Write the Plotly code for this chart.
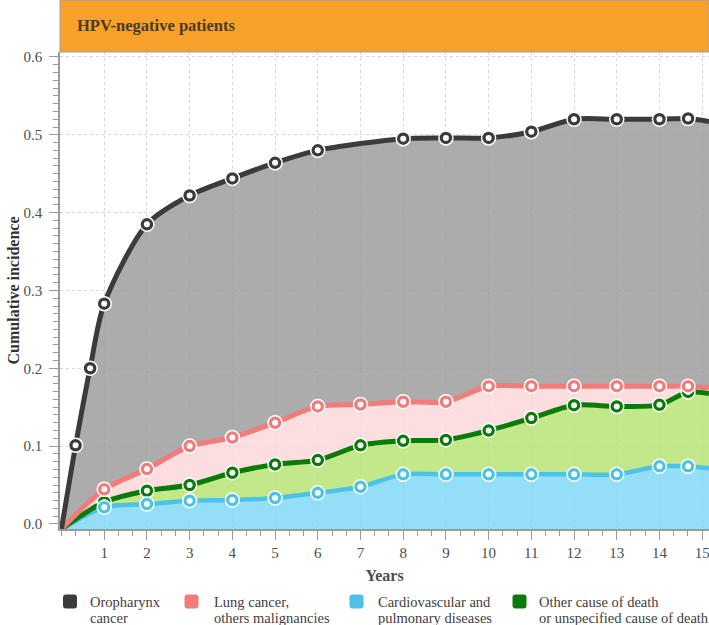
import plotly.graph_objects as go

# ---------------- data ----------------
Y0 = -0.0065  # bottom of the y axis (curves start at the lower-left corner)
X_END = 15.16  # right edge of the visible range

years = [0, 1, 2, 3, 4, 5, 6, 7, 8, 9, 10, 11, 12, 13, 14, 14.67, X_END]
oro_years = [0, 0.33, 0.67, 1, 2, 3, 4, 5, 6, 8, 9, 10, 11, 12, 13, 14, 14.67, X_END]

oropharynx = [Y0, 0.101, 0.200, 0.283, 0.385, 0.422, 0.444, 0.464, 0.480,
              0.495, 0.496, 0.496, 0.504, 0.520, 0.520, 0.520, 0.521, 0.517]
lung = [Y0, 0.0445, 0.0705, 0.100, 0.111, 0.130, 0.151, 0.1535, 0.157, 0.157,
        0.177, 0.177, 0.177, 0.177, 0.177, 0.177, 0.175]
other = [Y0, 0.028, 0.0427, 0.050, 0.0658, 0.0765, 0.082, 0.101, 0.1068, 0.108,
         0.120, 0.136, 0.1526, 0.151, 0.153, 0.1696, 0.1675]
cardio = [Y0, 0.0214, 0.0256, 0.0299, 0.0308, 0.0333, 0.040, 0.0478, 0.0637, 0.0637,
          0.0637, 0.0637, 0.0637, 0.0637, 0.074, 0.074, 0.0714]

legend_keys = ["oro", "lung", "cardio", "other"]
legend_lines = {
    "oro": ["Oropharynx", "cancer"],
    "lung": ["Lung cancer,", "others malignancies"],
    "cardio": ["Cardiovascular and", "pulmonary diseases"],
    "other": ["Other cause of death", "or unspecified cause of death"],
}
x_ticks = list(range(1, 16))
y_ticks = [0.0, 0.1, 0.2, 0.3, 0.4, 0.5, 0.6]
panel_title = "HPV-negative patients"

# ---------------- style / layout ----------------
W, H = 709, 625
ML, MR, MT, MB = 60, 0, 52, 96
PW, PH = W - ML - MR, H - MT - MB


def px_x(px):
    return (px - ML) / PW


def px_y(py):
    return (H - MB - py) / PH


FONT = "Liberation Serif, Times New Roman, serif"
line_col = {"oro": "#3b3b3b", "lung": "#f27b7b", "other": "#0a7a0a", "cardio": "#4cc3e6"}
fill_col = {"oro": "rgba(158,158,158,0.85)", "lung": "rgba(253,216,216,0.85)",
            "other": "rgba(184,228,117,0.85)", "cardio": "rgba(129,216,246,0.85)"}
line_w = {"oro": 5, "lung": 5, "other": 5, "cardio": 4.5}

series = [("cardio", years, cardio), ("other", years, other),
          ("lung", years, lung), ("oro", oro_years, oropharynx)]

fig = go.Figure()

# baseline at axis bottom for the lowest fill
fig.add_trace(go.Scatter(x=[0, X_END], y=[Y0, Y0], mode="lines",
                         line=dict(width=0), showlegend=False, hoverinfo="skip"))

for key, xs, ys in series:
    fig.add_trace(go.Scatter(
        x=xs, y=ys, mode="lines", fill="tonexty", fillcolor=fill_col[key],
        line=dict(color=line_col[key], width=line_w[key], shape="spline", smoothing=0.8),
        showlegend=False, hoverinfo="skip"))

# markers (first point = origin, last = edge of view: no marker)
for key, xs, ys in [("oro", oro_years, oropharynx), ("other", years, other),
                    ("lung", years, lung), ("cardio", years, cardio)]:
    fig.add_trace(go.Scatter(
        x=xs[1:-1], y=ys[1:-1], mode="markers",
        marker=dict(size=14, color=line_col[key], line=dict(color="white", width=1.5)),
        showlegend=False, hoverinfo="skip"))
    fig.add_trace(go.Scatter(
        x=xs[1:-1], y=ys[1:-1], mode="markers",
        marker=dict(size=6, color="white", line=dict(width=0)),
        showlegend=False, hoverinfo="skip"))

# ---- legend (drawn manually at the bottom) ----
swatch_cx = {"oro": 70, "lung": 191.5, "cardio": 356.5, "other": 519.5}
text_x = {"oro": 88.5, "lung": 212.7, "cardio": 376.7, "other": 538.3}
LINE1_Y, LINE2_Y = 601.5, 617.5
rounded = ("M -4,-7 L 4,-7 Q 7,-7 7,-4 L 7,4 Q 7,7 4,7 L -4,7 "
           "Q -7,7 -7,4 L -7,-4 Q -7,-7 -4,-7 Z")

shapes = [dict(type="rect", xref="paper", yref="paper", x0=0, x1=1,
               y0=1, y1=1 + MT / PH, fillcolor="#f9a12a",
               line=dict(color="#a0a0a0", width=1), layer="above")]
annotations = [dict(text="<b>" + panel_title + "</b>", xref="paper", yref="paper",
                    x=px_x(75), y=1 + 26 / PH, xanchor="left", yanchor="middle",
                    showarrow=False,
                    font=dict(family=FONT, size=16.5, color="#4a3c22"))]

for key in legend_keys:
    shapes.append(dict(type="path", xref="paper", yref="paper",
                       xsizemode="pixel", ysizemode="pixel",
                       xanchor=px_x(swatch_cx[key]), yanchor=px_y(LINE1_Y),
                       path=rounded, fillcolor=line_col[key], line=dict(width=0)))
    for txt, yy in zip(legend_lines[key], [LINE1_Y, LINE2_Y]):
        annotations.append(dict(text=txt, xref="paper", yref="paper",
                                x=px_x(text_x[key]), y=px_y(yy),
                                xanchor="left", yanchor="middle", showarrow=False,
                                borderpad=0,
                                font=dict(family=FONT, size=14.5, color="#404040")))

fig.update_layout(
    width=W, height=H,
    margin=dict(l=ML, r=MR, t=MT, b=MB, autoexpand=False),
    plot_bgcolor="white", paper_bgcolor="white",
    font=dict(family=FONT, size=15, color="#4d4d4d"),
    showlegend=False,
    xaxis=dict(
        range=[-0.035, X_END], tickvals=x_ticks, ticktext=[str(v) for v in x_ticks],
        showgrid=True, gridcolor="#d6d6d6", griddash="3px,3px", gridwidth=1,
        zeroline=False, showline=True, linecolor="#9a9a9a", linewidth=1.5,
        ticks="outside", ticklen=9, tickcolor="#9a9a9a", tickwidth=1.2,
        ticklabelstandoff=0, ticklabeloverflow="allow", automargin=False,
        minor=dict(dtick=1/3, tick0=0, ticks="outside", ticklen=5, tickcolor="#9a9a9a",
                   showgrid=False),
        tickfont=dict(family=FONT, size=15, color="#4d4d4d"),
        title=dict(text="<b>Years</b>", font=dict(family=FONT, size=16, color="#4d4d4d"),
                   standoff=10),
    ),
    yaxis=dict(
        range=[Y0, 0.6064], tickvals=y_ticks, tickformat=".1f",
        showgrid=True, gridcolor="#d6d6d6", griddash="3px,3px", gridwidth=1,
        zeroline=False, showline=True, linecolor="#9a9a9a", linewidth=1.5,
        ticks="outside", ticklen=9, tickcolor="#9a9a9a", tickwidth=1.2,
        ticklabelstandoff=4, automargin=False,
        minor=dict(dtick=0.01, tick0=0, ticks="outside", ticklen=5, tickcolor="#9a9a9a",
                   showgrid=False),
        tickfont=dict(family=FONT, size=15, color="#4d4d4d"),
        title=dict(text="<b>Cumulative incidence</b>",
                   font=dict(family=FONT, size=16, color="#333333"), standoff=0),
    ),
    shapes=shapes,
    annotations=annotations,
)

fig.write_html("out.html", post_script="document.body.style.margin='0px';",
               config={"displayModeBar": False})
